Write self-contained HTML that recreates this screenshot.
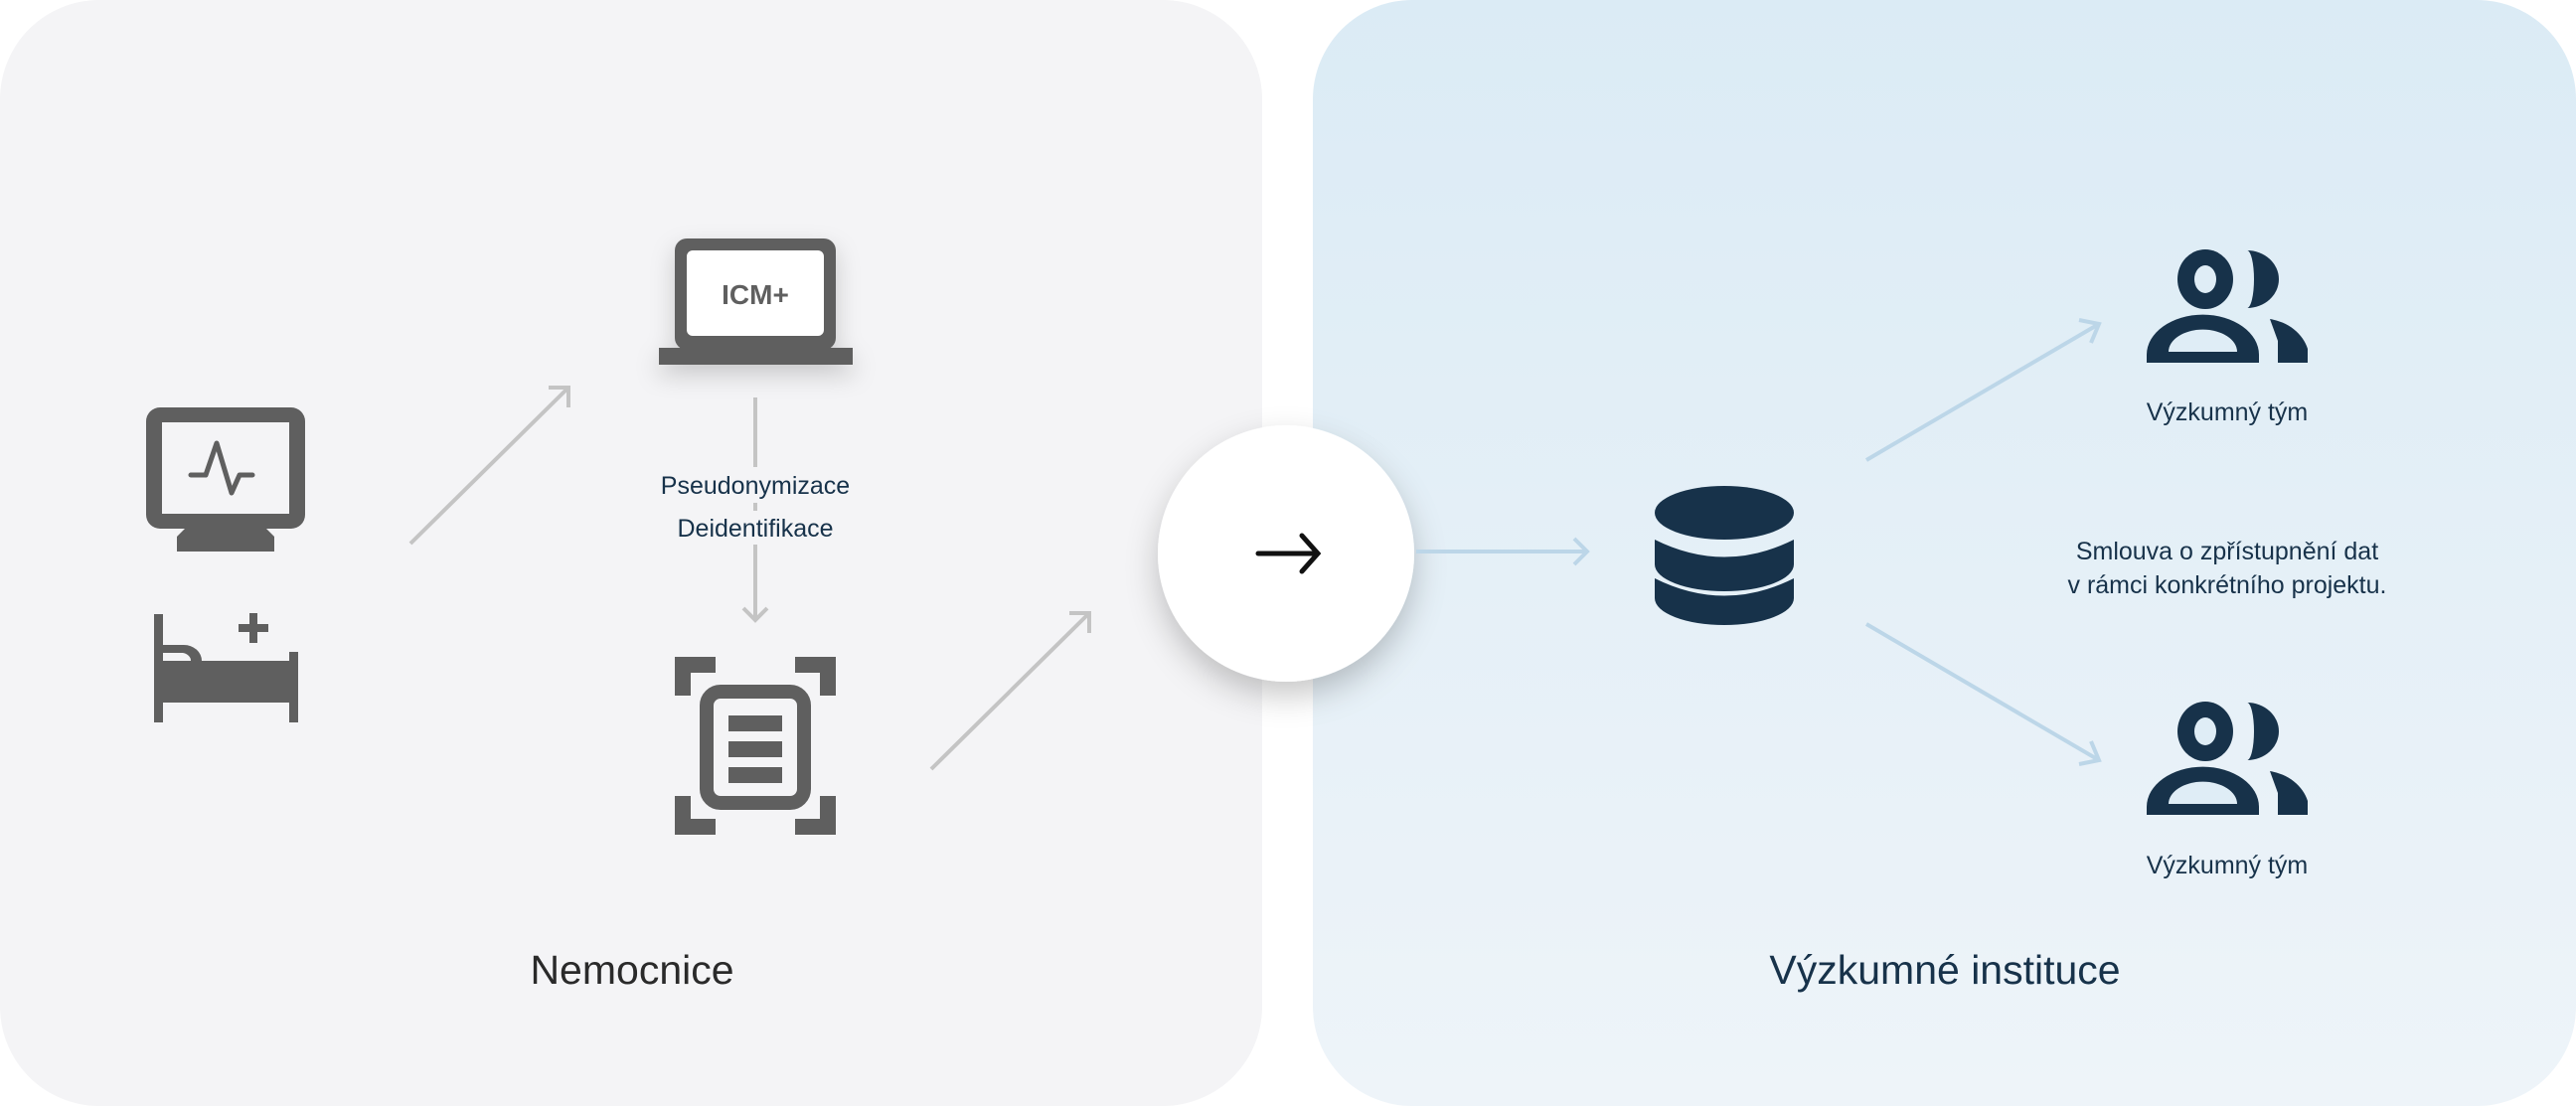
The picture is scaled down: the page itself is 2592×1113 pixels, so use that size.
<!DOCTYPE html>
<html><head><meta charset="utf-8"><style>
html,body{margin:0;padding:0;background:#fff;width:2592px;height:1113px;overflow:hidden}
svg{display:block}
text{font-family:"Liberation Sans",sans-serif}
</style></head><body>
<svg width="2592" height="1113" viewBox="0 0 2592 1113" xmlns="http://www.w3.org/2000/svg">
<defs>
<linearGradient id="rg" x1="0" y1="0" x2="0" y2="1"><stop offset="0" stop-color="#dbebf5"/><stop offset="1" stop-color="#eef4f9"/></linearGradient>
<filter id="sh" x="-50%" y="-50%" width="200%" height="200%"><feDropShadow dx="0" dy="14" stdDeviation="16" flood-color="#000" flood-opacity="0.22"/></filter>
<filter id="sh2" x="-30%" y="-30%" width="160%" height="200%"><feDropShadow dx="0" dy="10" stdDeviation="12" flood-color="#000" flood-opacity="0.18"/></filter>
</defs>
<rect x="0" y="0" width="1270" height="1113" rx="100" fill="#f4f4f6"/>
<rect x="1321" y="0" width="1271" height="1113" rx="100" fill="url(#rg)"/>

<!-- monitor -->
<g fill="#5f5f5f">
<rect x="147" y="410" width="160" height="122" rx="14"/>
<rect x="163" y="425" width="128" height="92" fill="#f4f4f6"/>
<path d="M186 532 H268 L276 540 V555 H178 V540 Z"/>
</g>
<polyline points="192,478 207,478 218,446 233,496 241,478 254,478" fill="none" stroke="#5f5f5f" stroke-width="5" stroke-linejoin="round" stroke-linecap="round"/>
<!-- bed -->
<g fill="#5f5f5f">
<rect x="155" y="618" width="9" height="109"/>
<rect x="291" y="656" width="9" height="71"/>
<rect x="155" y="665" width="145" height="42"/>
<path d="M164 649 H185 A18 16 0 0 1 203 665 H192 A10 8 0 0 0 184 657 H164 Z"/>
<rect x="251" y="617" width="8" height="30"/>
<rect x="240" y="628" width="30" height="8"/>
</g>
<!-- arrows left -->
<g stroke="#c4c4c4" stroke-width="4" fill="none">
<line x1="413" y1="547" x2="572" y2="390"/><polyline points="552,390 572,390 572,410"/>
<line x1="937" y1="774" x2="1096" y2="617"/><polyline points="1076,617 1096,617 1096,637"/>
<line x1="760" y1="400" x2="760" y2="470"/><line x1="760" y1="506" x2="760" y2="514"/><line x1="760" y1="548" x2="760" y2="624"/>
<polyline points="748,612 760,624 772,612"/>
</g>
<!-- laptop -->
<g filter="url(#sh2)">
<rect x="679" y="240" width="162" height="112" rx="12" fill="#5f5f5f"/>
<rect x="663" y="350" width="195" height="17" fill="#5f5f5f"/>
</g>
<rect x="691" y="252" width="138" height="86" rx="6" fill="#fff"/>
<text x="760" y="306" text-anchor="middle" font-size="28" font-weight="bold" fill="#5f5f5f">ICM+</text>
<text x="760" y="497" text-anchor="middle" font-size="25" fill="#17324a">Pseudonymizace</text>
<text x="760" y="540" text-anchor="middle" font-size="25" fill="#17324a">Deidentifikace</text>
<!-- doc icon -->
<g fill="#5f5f5f">
<path d="M679 661 H720 V677 H695 V700 H679 Z"/>
<path d="M841 661 H800 V677 H825 V700 H841 Z"/>
<path d="M679 840 H720 V824 H695 V801 H679 Z"/>
<path d="M841 840 H800 V824 H825 V801 H841 Z"/>
<rect x="733" y="720" width="54" height="16"/>
<rect x="733" y="746" width="54" height="16"/>
<rect x="733" y="772" width="54" height="16"/>
</g>
<rect x="711" y="696" width="98" height="112" rx="14" fill="none" stroke="#5f5f5f" stroke-width="14"/>
<text x="636" y="990" text-anchor="middle" font-size="41" fill="#2a2a2a">Nemocnice</text>

<!-- circle -->
<circle cx="1294" cy="557" r="129" fill="#fff" filter="url(#sh)"/>
<g stroke="#111" stroke-width="5" fill="none" stroke-linecap="round"><line x1="1266" y1="557" x2="1325" y2="557"/><polyline points="1310,539 1326,557 1310,575"/></g>

<!-- right arrows -->
<g stroke="#bcd6e8" stroke-width="4" fill="none">
<line x1="1425" y1="555" x2="1596" y2="555"/><polyline points="1584,542 1597,555 1584,568"/>
<line x1="1878" y1="463" x2="2112" y2="326"/><polyline points="2092,322 2112,326 2104,345"/>
<line x1="1878" y1="628" x2="2112" y2="765"/><polyline points="2104,746 2112,765 2092,769"/>
</g>
<!-- db -->
<g fill="#17324a">
<ellipse cx="1735" cy="516" rx="70" ry="27"/>
<path d="M1665 543 Q1735 578 1805 543 V568 A70 27 0 0 1 1665 568 Z"/>
<path d="M1665 582 Q1735 617 1805 582 V602 A70 27 0 0 1 1665 602 Z"/>
</g>
<!-- people -->
<g id="pp" transform="translate(2160,251)" fill="#17324a">
<ellipse cx="59" cy="30" rx="28" ry="30"/>
<ellipse cx="59" cy="30" rx="11" ry="14" fill="#dfedf6"/>
<path d="M101 1 A32 29 0 0 1 101 59 A7 29 0 0 0 101 1 Z"/>
<path d="M0 114 V106 A56 40 0 0 1 113 106 V114 Z"/>
<path d="M22 103 A34 22 0 0 1 91 103 Z" fill="#dfedf6"/>
<path d="M124 70 A48 42 0 0 1 162 100 V114 H132 V92 Z"/>
</g>
<use href="#pp" transform="translate(0,455)"/>
<g font-size="25" fill="#17324a" text-anchor="middle">
<text x="2241" y="423">Výzkumný tým</text>
<text x="2241" y="879">Výzkumný tým</text>
<text x="2241" y="563">Smlouva o zpřístupnění dat</text>
<text x="2241" y="597">v rámci konkrétního projektu.</text>
</g>
<text x="1957" y="990" text-anchor="middle" font-size="41" fill="#17324a">Výzkumné instituce</text>
</svg>
</body></html>
